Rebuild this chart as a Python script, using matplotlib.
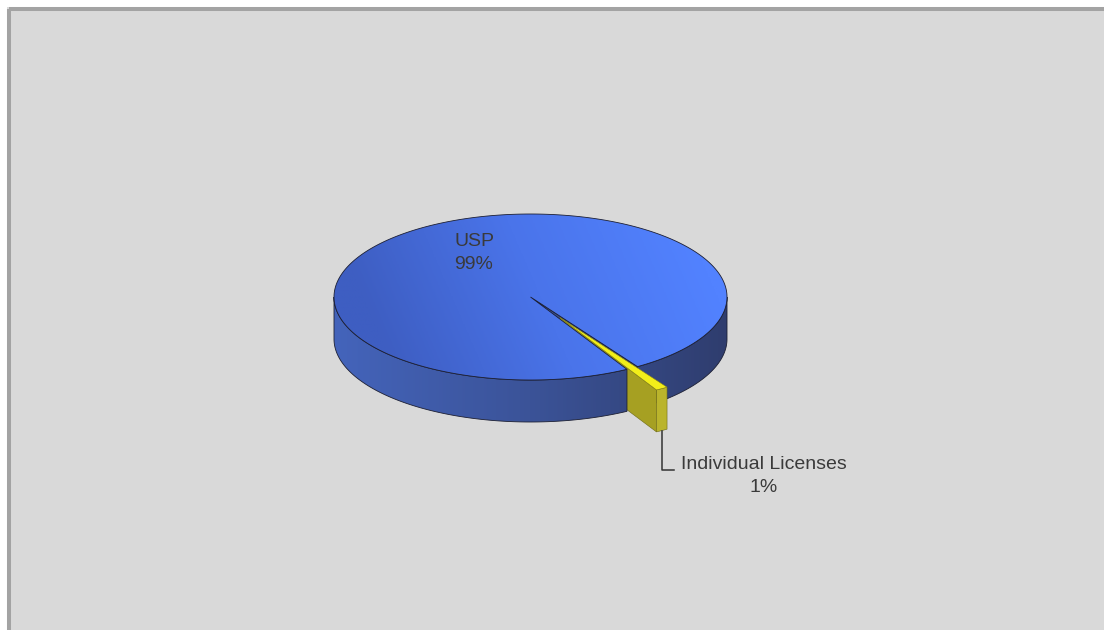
import numpy as np
import matplotlib
matplotlib.use("Agg")
import matplotlib.pyplot as plt
from matplotlib.patches import Polygon, Rectangle
from matplotlib.colors import LinearSegmentedColormap

plt.rcParams['font.family'] = ['Liberation Sans', 'DejaVu Sans']

# pie data
labels = ["USP", "Individual Licenses"]
values = [99, 1]
explode = [0.0, 0.29]

# 3d pie geometry (pixels, y grows downwards)
cx, cy = 530.5, 297.0
rx, ry = 196.5, 83.0
depth = 42.0
start = 60.6   # degrees, clockwise from 3 o'clock

top_cmap = LinearSegmentedColormap.from_list("top", ["#3e5ec2", "#4a74ea", "#5282ff"])
side_cmap = LinearSegmentedColormap.from_list("side", ["#4464bb", "#3b5398", "#2f3d6e"])
yel_top = "#f2ee1a"
yel_face = "#a6a022"
yel_side = "#bab42c"
edge = "#1c1f33"

fig = plt.figure(figsize=(11.04, 6.30), dpi=100)
fig.patch.set_facecolor("white")
ax = fig.add_axes([0, 0, 1, 1])
ax.axis("off")

# chart area with the grey frame on top and left
ax.add_patch(Rectangle((7, 7), 1104, 630, facecolor="#d9d9d9", edgecolor="none", zorder=0))
ax.plot([8.5, 8.5], [631, 8.5], color="#a3a3a3", lw=2.9, solid_capstyle="butt", zorder=1)
ax.plot([8.5, 1105], [8.5, 8.5], color="#a3a3a3", lw=2.9, solid_capstyle="butt", zorder=1)


def rim(a, ox=0.0, oy=0.0, dz=0.0):
    a = np.radians(a)
    return np.column_stack([cx + ox + rx * np.cos(a), cy + oy + ry * np.sin(a) + dz])


def arc(a0, a1):
    return np.linspace(a0, a1, max(int(abs(a1 - a0)) * 2, 2))


def gradient_fill(pts, cmap, p0, p1, z):
    poly = Polygon(pts, closed=True, facecolor="none", edgecolor=edge, lw=0.6, zorder=z + 0.1)
    ax.add_patch(poly)
    x0, y0 = pts.min(axis=0) - 2
    x1, y1 = pts.max(axis=0) + 2
    gx, gy = np.meshgrid(np.linspace(x0, x1, 300), np.linspace(y0, y1, 200))
    d = np.array(p1) - np.array(p0)
    t = ((gx - p0[0]) * d[0] + (gy - p0[1]) * d[1]) / (d @ d)
    im = ax.imshow(np.clip(t, 0, 1), cmap=cmap, vmin=0, vmax=1, extent=(x0, x1, y1, y0),
                   origin="upper", interpolation="bilinear", zorder=z)
    im.set_clip_path(poly)


def side_wall(a0, a1, ox, oy):
    a = arc(a0, a1)
    top = rim(a, ox, oy)
    bot = rim(a[::-1], ox, oy, depth)
    return np.vstack([top, bot])


def radial_face(a, ox, oy):
    p = rim([a], ox, oy)[0]
    return np.array([[cx + ox, cy + oy], p, p + [0, depth], [cx + ox, cy + oy + depth]])


fracs = np.array(values) / np.sum(values) * 360
bounds = start + np.concatenate([[0], np.cumsum(fracs)])
usp0, usp1 = bounds[0], bounds[1]
ind0, ind1 = bounds[1], bounds[2]
mid = np.radians((ind0 + ind1) / 2)
ox = explode[1] * rx * np.cos(mid)
oy = explode[1] * ry * np.sin(mid)

side_p0, side_p1 = (cx - rx, 0), (cx + rx, 0)

# USP: back part of the wall and the face seen through the gap
gradient_fill(side_wall(360, usp1, 0, 0), side_cmap, side_p0, side_p1, 2)
gradient_fill(radial_face(usp1, 0, 0), side_cmap, side_p0, side_p1, 2)

# Individual Licenses slice, pulled out
ax.add_patch(Polygon(radial_face(ind1, ox, oy), closed=True, facecolor=yel_face,
                     edgecolor="#6e6a14", lw=0.4, zorder=3))
ax.add_patch(Polygon(side_wall(ind0, ind1, ox, oy), closed=True, facecolor=yel_side,
                     edgecolor="#6e6a14", lw=0.4, zorder=3))
ytop = np.vstack([[cx + ox, cy + oy], rim(arc(ind0, ind1), ox, oy)])
ax.add_patch(Polygon(ytop, closed=True, facecolor=yel_top, edgecolor="#8a8616", lw=0.4, zorder=3.2))

# USP: front wall and top
gradient_fill(side_wall(usp0, 180, 0, 0), side_cmap, side_p0, side_p1, 4)
utop = np.vstack([[cx, cy], rim(arc(usp0, usp1))])
gradient_fill(utop, top_cmap, (390, 360), (690, 230), 5)

# leader line and labels
lx, ly = rim([np.degrees(mid)], ox, oy, depth)[0]
ax.plot([lx, lx, lx + 12], [ly, 470, 470], color="#333333", lw=1.1, zorder=6)

pct = [f"{v / sum(values) * 100:.0f}%" for v in values]
ax.text(474, 253, f"{labels[0]}\n{pct[0]}", ha="center", va="center", fontsize=14,
        color="#3a3a3a", linespacing=1.5, zorder=7)
ax.text(764, 476, f"{labels[1]}\n{pct[1]}", ha="center", va="center", fontsize=14,
        color="#3a3a3a", linespacing=1.5, zorder=7)

ax.set_xlim(0, 1104)
ax.set_ylim(630, 0)
ax.set_aspect("auto")
fig.savefig("out.png", dpi=100)
